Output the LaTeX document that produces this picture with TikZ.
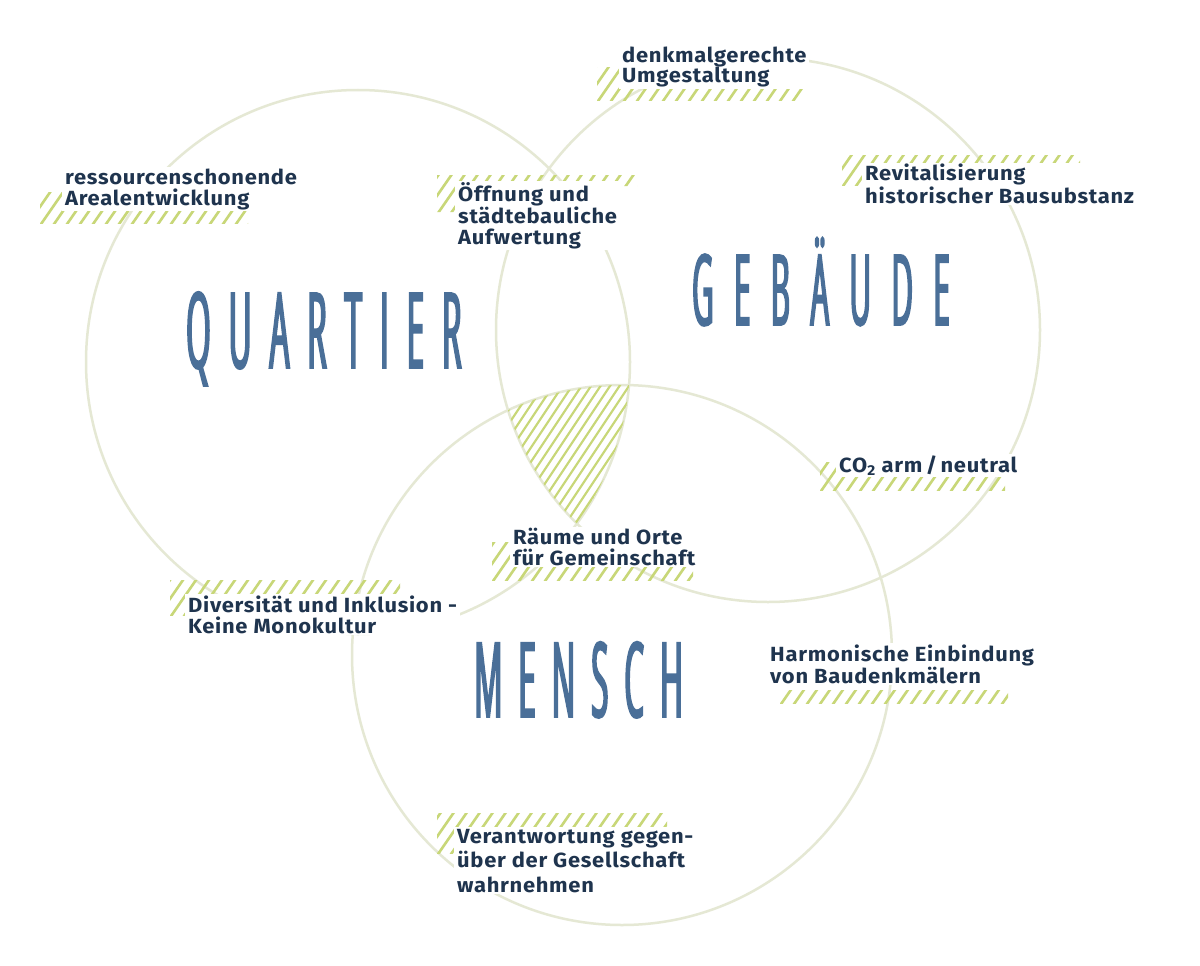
\documentclass[tikz,border=0pt]{standalone}
\usepackage{fontspec}
\usepackage{graphicx}
\newfontfamily\lblfont{Fira Sans}[FakeStretch=1.07,LetterSpace=3.5]
\newfontfamily\handfont{Open Sans}[FakeStretch=0.3,FakeBold=1.8]
\definecolor{ringc}{RGB}{229,232,212}
\definecolor{hatchc}{RGB}{200,215,120}
\definecolor{navy}{RGB}{31,52,78}
\definecolor{wordblue}{RGB}{74,111,152}
\newcommand\hatchlines[2]{%
  \foreach \k in {0,...,26} {\draw[hatchline] ({#1-40+13*\k},{#2+4}) -- ++(36,-52);}}
\newcommand\hatchband[4]{%
  \begin{scope}
    \clip (#1,#2) rectangle (#3,#4);
    \hatchlines{#1}{#4}
  \end{scope}}
\begin{document}
\begin{tikzpicture}[x=1pt,y=-1pt,
  ring/.style={draw=ringc,line width=2.5pt},
  hatchline/.style={draw=hatchc,line width=2.6pt},
  tripleline/.style={draw=hatchc,line width=2.2pt},
  lbl/.style={font=\lblfont\bfseries\fontsize{20.5}{20.5}\selectfont,text=navy,fill=white,
    align=left,anchor=base west,inner xsep=3pt,inner ysep=1.5pt},
  bigword/.style={text=wordblue,anchor=base west,inner sep=0pt}]
\useasboundingbox (0,0) rectangle (1200,966);
\fill[white] (0,0) rectangle (1200,966);
\coordinate (Q) at (358,362);
\coordinate (G) at (768,330);
\coordinate (M) at (622,655);
% circles
\draw[ring] (Q) circle[radius=272];
\draw[ring] (G) circle[radius=272];
\draw[ring] (M) circle[radius=270];
% triple intersection hatch
\begin{scope}
  \clip (Q) circle[radius=272];
  \clip (G) circle[radius=272];
  \clip (M) circle[radius=270];
  \foreach \k in {0,...,28} {\draw[tripleline] ({400+9.5*\k},530) -- ++(100,-150);}
\end{scope}
% hatch bands
\hatchband{40}{192}{248}{223}
\begin{scope}
  \clip (437,175) rectangle (637,186) (437,175) rectangle (458,212);
  \hatchlines{437}{212}
\end{scope}
\hatchband{597}{68}{803}{100}
\hatchband{842}{155}{1080}{185}
\hatchband{820}{462}{1005}{490}
\hatchband{492}{542}{693}{580}
\hatchband{170}{580}{400}{615}
\hatchband{437}{813}{667}{853}
\hatchband{780}{690}{1008}{703}
% labels
\node[lbl] (ressourcen) at (62,205) {ressourcenschonende\\Arealentwicklung};
\node[lbl] (oeffnung) at (455,244) {Öffnung und\\städtebauliche\\Aufwertung};
\node[lbl] (denkmal) at (619,83) {denkmalgerechte\\Umgestaltung};
\node[lbl] (revital) at (862,203) {Revitalisierung\\historischer Bausubstanz};
\node[lbl] (co2) at (836,472) {CO\textsubscript{2} arm\,/\,neutral};
\node[lbl] (raeume) at (510,565) {Räume und Orte\\für Gemeinschaft};
\node[lbl] (divers) at (185,633) {Diversität und Inklusion -\\Keine Monokultur};
\node[lbl,font=\lblfont\bfseries\fontsize{20.5}{24.5}\selectfont] (verantw) at (454,892) {Verantwortung gegen-\\über der Gesellschaft\\wahrnehmen};
\node[lbl] (harmon) at (767,683) {Harmonische Einbindung\\von Baudenkmälern};
% big words
\node[bigword] (quartier) at (186,368) {\handfont\fontsize{105}{105}\selectfont Q\hspace{17.9pt}U\hspace{17.9pt}A\hspace{17.9pt}R\hspace{17.9pt}T\hspace{17.9pt}I\hspace{17.9pt}E\hspace{17.9pt}R};
\node[bigword] (gebaeude) at (692,325) {\handfont\fontsize{98}{98}\selectfont G\hspace{20.5pt}E\hspace{20.5pt}B\hspace{20.5pt}Ä\hspace{20.5pt}U\hspace{20.5pt}D\hspace{20.5pt}E};
\node[bigword] (mensch) at (474,717) {\handfont\fontsize{104}{104}\selectfont M\hspace{16pt}E\hspace{16pt}N\hspace{16pt}S\hspace{16pt}C\hspace{16pt}H};
\end{tikzpicture}
\end{document}
